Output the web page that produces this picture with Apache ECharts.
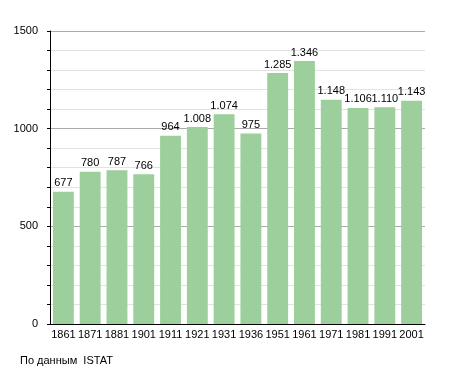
<!DOCTYPE html>
<html><head><meta charset="utf-8">
<script src="https://cdn.jsdelivr.net/npm/echarts@6/dist/echarts.min.js"></script>
<style>html,body{margin:0;padding:0;background:#fff}#c{width:455px;height:373px}</style>
</head><body><div id="c"></div>
<script>
var years = ['1861','1871','1881','1901','1911','1921','1931','1936','1951','1961','1971','1981','1991','2001'];
var population = [677,780,787,766,964,1008,1074,975,1285,1346,1148,1106,1110,1143];
var yTicks = [0,500,1000,1500];
var sourceText = 'По данным  ISTAT';

function fmt(v){ return String(v).replace(/\B(?=(\d{3})+(?!\d))/g,'.'); }

var chart = echarts.init(document.getElementById('c'), null, {renderer:'canvas'});
chart.setOption({
  animation:false,
  textStyle:{fontFamily:'Liberation Sans, Arial, sans-serif'},
  grid:{left:50,right:30,top:31,bottom:49},
  graphic:[{type:'text',left:20,top:355,style:{text:sourceText,fontSize:11,fill:'#000',fontFamily:'Liberation Sans, Arial, sans-serif'}}],
  xAxis:{type:'category',data:years,
    axisLine:{lineStyle:{color:'#000',width:1}},
    axisTick:{show:false},
    axisLabel:{color:'#000',fontSize:11,margin:5,interval:0}},
  yAxis:{type:'value',min:yTicks[0],max:yTicks[yTicks.length-1],interval:500,
    axisLine:{show:true,lineStyle:{color:'#000'}},
    axisTick:{show:true,length:3,lineStyle:{color:'#000'}},
    minorTick:{show:true,splitNumber:5,length:3,lineStyle:{color:'#000'}},
    splitLine:{show:true,lineStyle:{color:'#aaaaaa'}},
    minorSplitLine:{show:true,lineStyle:{color:'#e2e2e2'}},
    axisLabel:{color:'#000',fontSize:11,margin:12,formatter:function(v){return String(v);}}},
  series:[{type:'bar',data:population,barCategoryGap:'22%',
    itemStyle:{color:'#9ccf9c'},
    label:{show:true,position:'top',distance:3,color:'#000',fontSize:11,formatter:function(p){return fmt(p.value);}}}]
});
</script></body></html>
